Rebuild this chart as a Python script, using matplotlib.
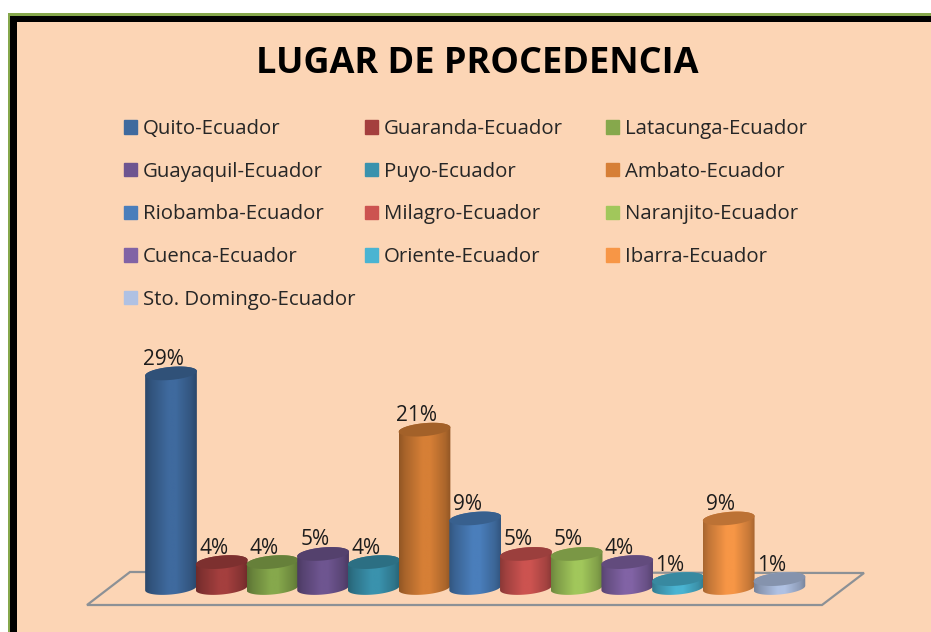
import numpy as np
import matplotlib
matplotlib.use('Agg')
import matplotlib.pyplot as plt
from matplotlib.patches import Patch, Polygon, Rectangle

W, H = 931, 632

places = ['Quito-Ecuador', 'Guaranda-Ecuador', 'Latacunga-Ecuador', 'Guayaquil-Ecuador',
          'Puyo-Ecuador', 'Ambato-Ecuador', 'Riobamba-Ecuador', 'Milagro-Ecuador',
          'Naranjito-Ecuador', 'Cuenca-Ecuador', 'Oriente-Ecuador', 'Ibarra-Ecuador',
          'Sto. Domingo-Ecuador']
# bar heights, labels show them rounded
values = [29, 3.5, 3.5, 4.6, 3.5, 21.4, 9.4, 4.6, 4.6, 3.5, 1.2, 9.4, 1.2]
colors = ['#3F6A9E', '#A43F3E', '#86A84C', '#6E5590', '#3A92AD', '#D67F36', '#4A7EBB',
          '#CC5350', '#A1C75B', '#8163A5', '#4AB4D2', '#F79646', '#AFC1E3']
PEACH = '#FCD5B5'

# pixel scale of the bar area
X0, DX = 171.0, 50.7
Y0, DY = 588.0, 7.4


def figbox(x, y, w, h):
    return [x / W, 1 - (y + h) / H, w / W, h / H]


def figpt(x, y):
    return (x / W, 1 - y / H)


def rgb(color):
    return np.array(matplotlib.colors.to_rgb(color))


fig = plt.figure(figsize=(W / 100, H / 100), dpi=100, facecolor='white')

# frame: thin green line, thick black line, peach fill
for x, y, col in [(8, 13, '#86A84C'), (10, 16, 'black'), (17, 22, PEACH)]:
    l, b, w, h = figbox(x, y, W - x, H - y)
    fig.add_artist(Rectangle((l, b), w, h, transform=fig.transFigure, color=col, lw=0, zorder=-1))

ax = fig.add_axes([0, 0, 1, 1])
ax.patch.set_alpha(0)
ax.axis('off')
xlim = (-X0 / DX, (W - X0) / DX)
ylim = ((Y0 - H) / DY, Y0 / DY)

# floor of the 3d chart
floor = [figpt(87, 605), figpt(130, 572), figpt(864, 573), figpt(822, 605)]
ax.add_patch(Polygon(floor, closed=True, fill=False, ec='#8C9196', lw=1.6,
                     transform=fig.transFigure, zorder=1))

half_w = 0.51
half_h = 6.5 / DY
tilt = 0.6
t = np.linspace(0, 2 * np.pi, 81)
shade = np.interp(np.linspace(0, 1, 60), [0, 0.1, 0.45, 0.6, 0.9, 1],
                  [0.68, 0.78, 1.0, 1.0, 0.8, 0.68])

for i, (v, col) in enumerate(zip(values, colors)):
    xe = i + half_w * np.cos(t)
    ye = half_h * np.sin(t) + tilt * half_w * np.cos(t)
    # side: lower half of the base ellipse, then upper half of the top one
    low = t[t >= np.pi]
    up = t[t <= np.pi]
    bx = i + half_w * np.cos(low)
    by = half_h * np.sin(low) + tilt * half_w * np.cos(low)
    tx = i + half_w * np.cos(up)
    ty = v + half_h * np.sin(up) + tilt * half_w * np.cos(up)
    body = Polygon(np.column_stack([np.r_[bx, tx], np.r_[by, ty]]), closed=True,
                   transform=ax.transData, fc='none', ec='none')
    ax.add_patch(body)
    grad = (shade[None, :, None] * rgb(col)).clip(0, 1)
    im = ax.imshow(grad, extent=(i - half_w, i + half_w, -3, v + 3), aspect='auto',
                   interpolation='bilinear', zorder=2 + i * 0.1)
    im.set_clip_path(body)
    ax.fill(xe, v + ye, color=rgb(col) * 0.76, lw=0, zorder=2.05 + i * 0.1)
    ax.annotate(f'{v:.0f}%', (i, v), xytext=(-8, 14), textcoords='offset pixels',
                ha='center', va='center', fontsize=15, color='#1c1c1c',
                family='Open Sans', zorder=5)

ax.set_xlim(xlim)
ax.set_ylim(ylim)

fig.text(477 / W, 1 - 64 / H, 'LUGAR DE PROCEDENCIA', ha='center', va='center',
         fontsize=26, fontweight='bold', family='Open Sans', color='black')

# legend: one block per column, rows go left to right
col_x = [118, 359, 600]
for c in range(3):
    handles = [Patch(color=colors[j], label=places[j]) for j in range(c, len(places), 3)]
    fig.legend(handles=handles, loc='upper left', bbox_to_anchor=figpt(col_x[c], 113),
               frameon=False, prop={'family': 'Open Sans', 'size': 14.7}, labelcolor='#262626',
               handlelength=0.63, handleheight=0.63, handletextpad=0.3,
               labelspacing=1.11, borderaxespad=0, borderpad=0.3)

fig.savefig('out.png', dpi=100)
